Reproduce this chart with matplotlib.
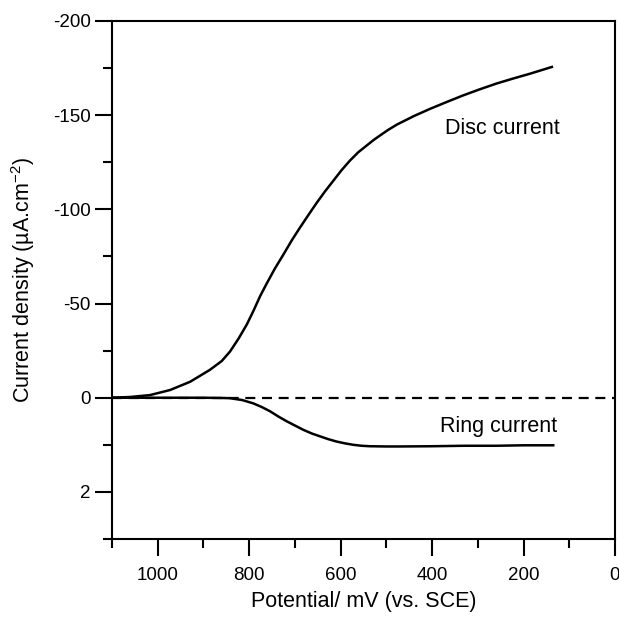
#!/usr/bin/env python3
"""Disc and ring currents vs potential (RRDE), split y scale below zero."""

import matplotlib
matplotlib.use("Agg")
import matplotlib.pyplot as plt
import numpy as np
from matplotlib.ticker import FixedLocator, FormatStrFormatter

plt.rcParams["font.family"] = ["Liberation Sans", "DejaVu Sans"]
plt.rcParams["mathtext.default"] = "regular"
plt.rcParams["axes.unicode_minus"] = False

# disc current (uA/cm2, negative = cathodic)
disc_potential = [1100, 1060, 1017, 973, 929, 886, 860, 842, 823, 805, 790, 776,
                  762, 744, 725, 707, 689, 670, 652, 634, 616, 598, 580, 562,
                  543, 528, 514, 496, 477, 440, 404, 368, 332, 296, 259, 222,
                  186, 138]
disc_current = [0.0, -0.4, -1.4, -4.1, -8.5, -14.8, -19.5, -24.5, -31.5, -39.0,
                -46.5, -54.0, -60.5, -68.5, -76.1, -83.5, -90.3, -97.2, -103.6,
                -109.6, -115.2, -120.8, -125.8, -130.2, -133.9, -136.8, -139.2,
                -142.2, -145.0, -149.5, -153.4, -157.0, -160.5, -163.7, -166.8,
                -169.5, -172.0, -175.6]

# ring current (uA/cm2, positive = anodic), shown on the expanded lower scale
ring_potential = [1100, 1000, 900, 860, 842, 815, 791, 772, 754, 736, 718, 700,
                  682, 663, 645, 627, 609, 590, 572, 554, 536, 500, 470, 400,
                  330, 260, 200, 135]
ring_current = [0.0, 0.0, 0.0, 0.005, 0.01, 0.05, 0.12, 0.2, 0.29, 0.4, 0.5, 0.59,
                0.68, 0.76, 0.82, 0.88, 0.93, 0.97, 1.0, 1.02, 1.03, 1.035, 1.035,
                1.03, 1.02, 1.02, 1.01, 1.01]

RING_FACTOR = 25.0  # one ring unit occupies the same height as 25 disc units

y_major = [-200, -150, -100, -50, 0, 2]
y_minor = [-175, -125, -75, -25, 1, 3]
x_major = [1000, 800, 600, 400, 200, 0]
x_minor = [1100, 900, 700, 500, 300, 100]


def forward(y):
    y = np.asarray(y, dtype=float)
    return np.where(y < 0, y, y * RING_FACTOR)


def inverse(v):
    v = np.asarray(v, dtype=float)
    return np.where(v < 0, v, v / RING_FACTOR)


fig = plt.figure(figsize=(6.19, 6.17), dpi=100)
ax = fig.add_axes([0.181, 0.1264, 0.8125, 0.8396])

ax.set_yscale("function", functions=(forward, inverse))
ax.plot(disc_potential, disc_current, color="black", lw=1.8,
        solid_joinstyle="round")
ax.plot(ring_potential, ring_current, color="black", lw=1.8,
        solid_joinstyle="round")
ax.axhline(0, color="black", lw=1.6, dashes=(4.5, 3))

ax.set_xlim(1100, 0)
ax.set_ylim(3, -200)

ax.xaxis.set_major_locator(FixedLocator(x_major))
ax.xaxis.set_minor_locator(FixedLocator(x_minor))
ax.yaxis.set_major_locator(FixedLocator(y_major))
ax.yaxis.set_minor_locator(FixedLocator(y_minor))
ax.yaxis.set_major_formatter(FormatStrFormatter("%g"))
ax.xaxis.set_major_formatter(FormatStrFormatter("%g"))

for spine in ax.spines.values():
    spine.set_linewidth(1.5)
ax.tick_params(which="both", direction="out", width=1.5, labelsize=13.5)
ax.tick_params(which="major", length=12)
ax.tick_params(which="minor", length=6.5)
ax.tick_params(axis="x", which="major", pad=8)
ax.tick_params(axis="y", which="major", pad=3.5)

ax.text(247, -143, "Disc current", ha="center", va="center", fontsize=15.5)
ax.text(254, 0.61, "Ring current", ha="center", va="center", fontsize=15.5)

ax.set_xlabel("Potential/ mV (vs. SCE)", fontsize=15.5, labelpad=5)
ax.set_ylabel("Current density (µA.cm$^{-2}$)", fontsize=15.5, labelpad=11)

fig.savefig("out.png", dpi=100)
